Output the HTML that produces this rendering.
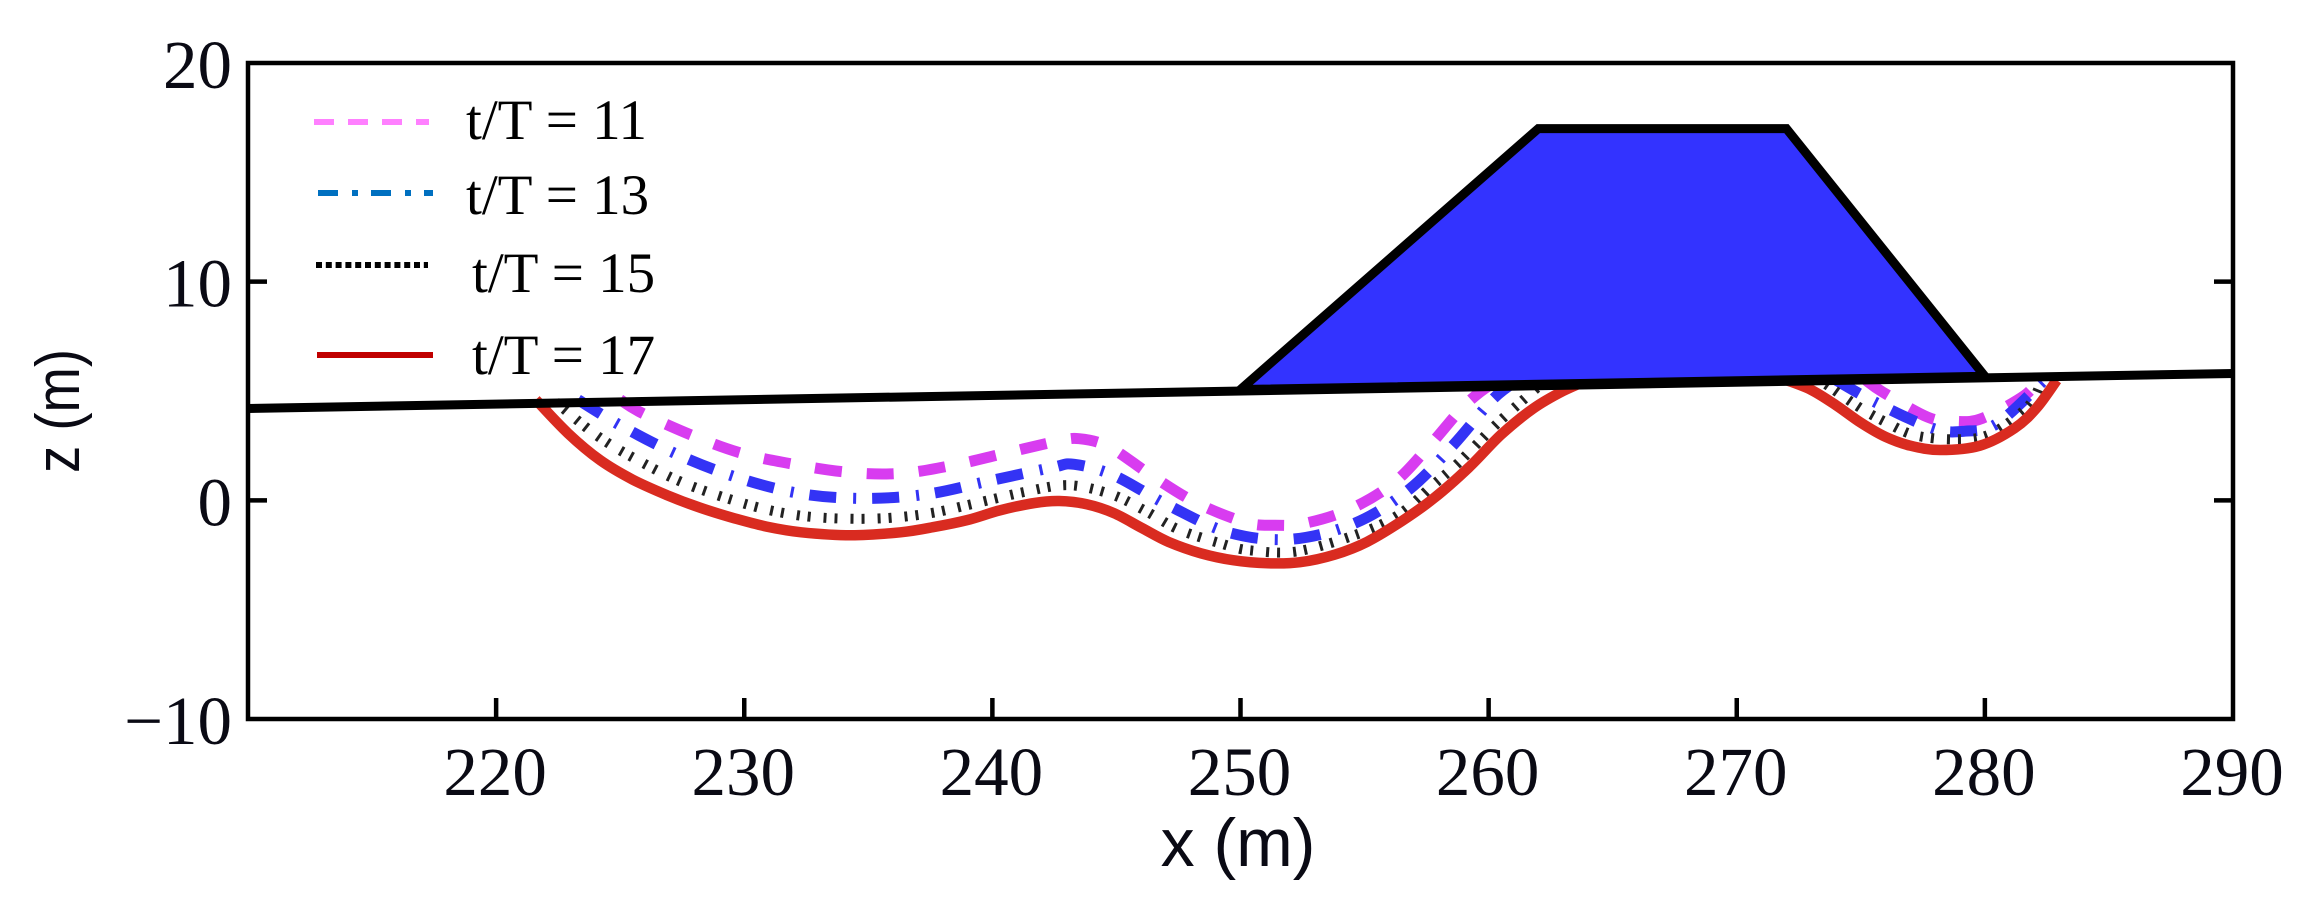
<!DOCTYPE html>
<html lang="en">
<head>
<meta charset="utf-8">
<title>Bed profile evolution under a breakwater</title>
<style>
html,body{margin:0;padding:0;background:#fff;width:2302px;height:911px;overflow:hidden}
svg{display:block}
text{fill:#0a0a14}
.tick{font-family:"Liberation Serif",serif;font-size:69px}
.leg{font-family:"Liberation Serif",serif;font-size:57px;fill:#000}
.axt{font-family:"Liberation Sans",sans-serif;font-size:68px}
.axy{font-family:"Liberation Sans",sans-serif;font-size:62px}
</style>
</head>
<body>
<svg id="chart" xmlns="http://www.w3.org/2000/svg" width="2302" height="911" viewBox="0 0 2302 911">
<rect x="0" y="0" width="2302" height="911" fill="#fff"/>
<g id="curves"></g>
<g id="structure"></g>
<g id="axes"></g>
<text class="axt" x="1238" y="866" text-anchor="middle">x (m)</text>
<text class="axy" transform="translate(79 411) rotate(-90)" text-anchor="middle" textLength="124" lengthAdjust="spacingAndGlyphs">z (m)</text>
<g>
<g>
<line x1="314" y1="122" x2="429" y2="122" stroke="#ff80ff" stroke-width="6" stroke-dasharray="20 14"/>
<text class="leg" x="466" y="139">t/T = 11</text>
</g>
<g>
<line x1="318" y1="193" x2="433" y2="193" stroke="#0070c0" stroke-width="6" stroke-dasharray="20 14 6 13"/>
<text class="leg" x="466" y="214">t/T = 13</text>
</g>
<g>
<line x1="316" y1="265" x2="428" y2="265" stroke="#000" stroke-width="6" stroke-dasharray="6 3.8"/>
<text class="leg" x="472" y="292">t/T = 15</text>
</g>
<g>
<line x1="317" y1="355" x2="433" y2="355" stroke="#c00000" stroke-width="6"/>
<text class="leg" x="472" y="374">t/T = 17</text>
</g>
</g>
</svg>
<script>
// Tick labels
const xTicks = [220, 230, 240, 250, 260, 270, 280, 290];
const yTicks = [20, 10, 0, -10];

// Series values, in metres; null splits a series into separate troughs
const t11X = [225.0,225.9,227.9,229.9,232.0,234.2,236.3,238.4,240.5,242.6,243.5,244.7,246.4,248.2,250.2,251.4,252.6,254.4,256.2,257.7,259.0,260.1,261.0,null,275.2,275.9,277.7,278.8,279.9,281.6,282.2];
const t11Z = [4.6,3.98,2.97,2.15,1.65,1.28,1.23,1.60,2.15,2.70,2.82,2.45,1.15,-0.10,-1.01,-1.14,-1.05,-0.41,0.82,2.61,4.30,5.30,5.7,null,5.5,4.94,3.80,3.61,3.75,4.80,5.6];

const t13X = [223.3,225.0,227.3,229.7,232.2,234.7,237.3,239.8,242.4,243.3,244.9,247.1,249.5,252.0,254.6,256.8,258.6,260.2,261.3,null,274.0,275.6,277.9,279.2,280.5,282.4];
const t13Z = [4.6,3.43,2.10,1.05,0.32,0.09,0.27,0.87,1.50,1.65,1.14,-0.23,-1.46,-1.78,-1.05,0.50,2.56,4.66,5.6,null,5.5,4.48,3.29,3.16,3.52,5.5];

const t15X = [222.4,224.1,225.8,227.7,230.1,231.9,233.6,235.6,237.5,239.3,241.4,243.1,244.8,246.2,247.5,249.2,250.4,252.3,254.8,256.4,257.7,258.8,260.4,262.0,null,273.6,275.0,276.1,277.2,278.8,280.2,281.7,282.2];
const t15Z = [4.5,2.93,1.78,0.73,-0.18,-0.64,-0.82,-0.82,-0.59,-0.14,0.41,0.69,0.27,-0.50,-1.33,-1.97,-2.29,-2.33,-1.51,-0.64,0.64,1.74,3.57,5.2,null,5.3,4.21,3.52,2.97,2.79,3.02,4.25,5.2];

const t17X = [221.6,222.9,224.2,225.5,226.9,228.2,229.6,230.9,232.3,234.3,236.3,237.6,239.0,240.3,241.7,242.7,243.8,244.9,246.0,247.1,248.4,249.7,251.1,252.4,253.8,255.1,256.5,257.8,259.2,260.5,261.8,263.0,264.0,null,272.0,273.0,274.0,275.0,276.0,277.0,278.2,279.8,281.2,282.1,282.9];
const t17Z = [4.6,3.06,1.83,0.95,0.23,-0.33,-0.82,-1.20,-1.46,-1.60,-1.46,-1.23,-0.90,-0.46,-0.12,-0.03,-0.18,-0.59,-1.25,-1.90,-2.42,-2.74,-2.88,-2.83,-2.48,-1.90,-0.95,0.10,1.50,3.00,4.20,5.00,5.5,null,5.5,5.05,4.35,3.55,2.90,2.50,2.30,2.50,3.30,4.25,5.5];

// Structure geometry, in metres
const damX = [250, 262, 272, 280];
const damZ = [5.07, 17.0, 17.0, 5.67];
const bedX = [210, 290];
const bedZ = [4.2, 5.8];

// Axis functions
const xMin = 210, xMax = 290, yMin = -10, yMax = 20;
const left = 248, right = 2233, top_ = 63, bottom = 719;
function sx(v) { return left + (v - xMin) / (xMax - xMin) * (right - left); }
function sy(v) { return bottom - (v - yMin) / (yMax - yMin) * (bottom - top_); }

const NS = 'http://www.w3.org/2000/svg';
function make(tag, attrs, parent) {
  const el = document.createElementNS(NS, tag);
  for (const k in attrs) el.setAttribute(k, attrs[k]);
  parent.appendChild(el);
  return el;
}

// Smooth Catmull-Rom path through one run of points
function smooth(pts) {
  let d = 'M' + pts[0][0].toFixed(1) + ' ' + pts[0][1].toFixed(1);
  for (let i = 0; i < pts.length - 1; i++) {
    const p0 = pts[Math.max(i - 1, 0)], p1 = pts[i], p2 = pts[i + 1], p3 = pts[Math.min(i + 2, pts.length - 1)];
    const c1x = p1[0] + (p2[0] - p0[0]) / 6, c1y = p1[1] + (p2[1] - p0[1]) / 6;
    const c2x = p2[0] - (p3[0] - p1[0]) / 6, c2y = p2[1] - (p3[1] - p1[1]) / 6;
    d += 'C' + c1x.toFixed(1) + ' ' + c1y.toFixed(1) + ' ' + c2x.toFixed(1) + ' ' + c2y.toFixed(1) + ' ' + p2[0].toFixed(1) + ' ' + p2[1].toFixed(1);
  }
  return d;
}
function seriesPath(xs, zs) {
  let d = '', run = [];
  xs.forEach(function (x, i) {
    if (x === null || zs[i] === null) {
      if (run.length) d += smooth(run);
      run = [];
    } else {
      run.push([sx(x), sy(zs[i])]);
    }
  });
  if (run.length) d += smooth(run);
  return d;
}

const curves = document.getElementById('curves');

const p11 = make('path', {d: seriesPath(t11X, t11Z), fill: 'none', stroke: '#d83cf0', 'stroke-width': 11, 'stroke-dasharray': '27 25'}, curves);



const p13 = make('path', {d: seriesPath(t13X, t13Z), fill: 'none', stroke: '#3333f5', 'stroke-width': 11, 'stroke-dasharray': '27 17 3 16'}, curves);



const p15 = make('path', {d: seriesPath(t15X, t15Z), fill: 'none', stroke: '#222', 'stroke-width': 10, 'stroke-dasharray': '3 8 3 13'}, curves);



const p17 = make('path', {d: seriesPath(t17X, t17Z), fill: 'none', stroke: '#d92b20', 'stroke-width': 10.5}, curves);



const structure = document.getElementById('structure');
const damPts = damX.map(function (x, i) { return sx(x).toFixed(1) + ',' + sy(damZ[i]).toFixed(1); }).join(' ');
const dam = make('polygon', {points: damPts, fill: '#3333ff', stroke: '#000', 'stroke-width': 9, 'stroke-linejoin': 'miter'}, structure);



const bed = make('line', {x1: sx(bedX[0]), y1: sy(bedZ[0]), x2: sx(bedX[1]), y2: sy(bedZ[1]), stroke: '#000', 'stroke-width': 9}, structure);



const axes = document.getElementById('axes');
const frame = make('rect', {x: left, y: top_, width: right - left, height: bottom - top_, fill: 'none', stroke: '#000', 'stroke-width': 4.5}, axes);



xTicks.forEach(function (v) {
  if (v < xMax) {
    const t = make('line', {x1: sx(v), y1: bottom, x2: sx(v), y2: bottom - 21, stroke: '#000', 'stroke-width': 4.5}, axes);
    
    
  }
  const label = make('text', {class: 'tick', x: sx(v) - 1, y: 795, 'text-anchor': 'middle'}, axes);
  label.textContent = String(v);
  
  
});

yTicks.forEach(function (v) {
  if (v > yMin && v < yMax) {
    const a = make('line', {x1: left, y1: sy(v), x2: left + 19, y2: sy(v), stroke: '#000', 'stroke-width': 4.5}, axes);
    
    
    const b = make('line', {x1: right, y1: sy(v), x2: right - 19, y2: sy(v), stroke: '#000', 'stroke-width': 4.5}, axes);
    
    
  }
  const label = make('text', {class: 'tick', x: 232, y: sy(v) + 25, 'text-anchor': 'end'}, axes);
  label.textContent = v < 0 ? '\u2212' + Math.abs(v) : String(v);
  
  
});
</script>
</body>
</html>
